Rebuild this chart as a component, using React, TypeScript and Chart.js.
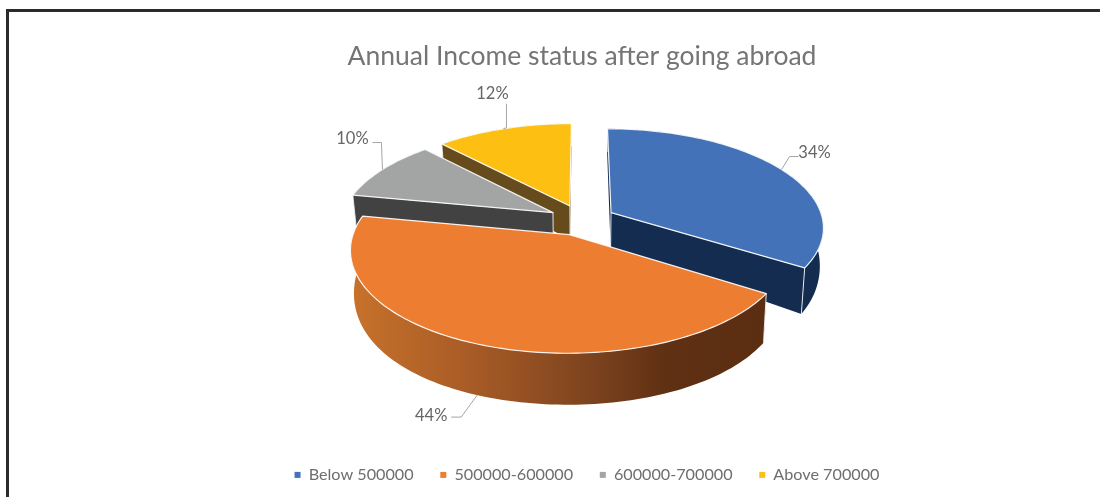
import React, { useEffect, useRef } from "react";
import { Chart, registerables } from "chart.js";

Chart.register(...registerables);

const categories = ["Below 500000", "500000-600000", "600000-700000", "Above 700000"];
const shares = [34, 44, 10, 12];
const topColors = ["#4472B8", "#ED7D31", "#A3A5A4", "#FCBF12"];
const wallColors = ["#142C50", "#8A4A20", "#424242", "#664C1D"];
const chartTitle = "Annual Income status after going abroad";

// Back-to-front paint order of the exploded slices.
const paintOrder = [3, 2, 0, 1];

// Leader geometry per slice, relative to the rim anchor: elbow, tail, text centre.
const leaders = [
  { elbow: [8, -13], tail: [17, -13], text: [33, -17] },
  { elbow: [-16, 22], tail: [-26, 22], text: [-46, 21] },
  { elbow: [-1, -27], tail: [-10, -27], text: [-30, -31] },
  { elbow: [3, -1], tail: [3, -25], text: [-11, -35] },
];

const FONT = "Lato, 'Open Sans', sans-serif";
const PIE_RADIUS = 212;
const PIE_OFFSET = 33.5;
const PIE_CENTER_Y = 220;
const TILT = 0.46;
const PERSPECTIVE = 0.14;
const FLOOR_SCALE = 0.985;

type Pt = [number, number];

// Wall height grows toward the viewer.
const wallDepth = (v: number) => (v < 0 ? 36 + 13 * v : 36 + 29 * v - 12 * v * v);

const projectTop = (cx: number, u: number, v: number): Pt => {
  const w = 1 - PERSPECTIVE * v;
  return [cx + (u * PIE_RADIUS) / w, PIE_CENTER_Y + (v * PIE_RADIUS * TILT) / w];
};

const projectFloor = (cx: number, u: number, v: number): Pt => {
  const [x, y] = projectTop(cx, u, v);
  return [cx + (x - cx) * FLOOR_SCALE, PIE_CENTER_Y + (y - PIE_CENTER_Y) * FLOOR_SCALE + wallDepth(v)];
};

const tracePolygon = (ctx: CanvasRenderingContext2D, pts: Pt[], close = true) => {
  ctx.beginPath();
  pts.forEach(([x, y], i) => (i ? ctx.lineTo(x, y) : ctx.moveTo(x, y)));
  if (close) ctx.closePath();
};

const sliceGeometry = (arc: any) => {
  const radius = arc.outerRadius;
  const mid = (arc.startAngle + arc.endAngle) / 2;
  const shift = arc.options.offset / radius;
  const apex: Pt = [Math.cos(mid) * shift, Math.sin(mid) * shift];
  const rim: Pt[] = [];
  const steps = Math.max(12, Math.ceil((arc.endAngle - arc.startAngle) * 40));
  for (let i = 0; i <= steps; i++) {
    const a = arc.startAngle + ((arc.endAngle - arc.startAngle) * i) / steps;
    rim.push([apex[0] + Math.cos(a), apex[1] + Math.sin(a)]);
  }
  return { apex, rim, mid };
};

// Draws the pie's arc elements as raised, perspective-foreshortened slices.
const extrudedPie = {
  id: "extrudedPie",
  beforeDatasetsDraw(chart: any) {
    const ctx: CanvasRenderingContext2D = chart.ctx;
    const arcs = chart.getDatasetMeta(0).data;
    ctx.save();
    ctx.lineJoin = "round";

    paintOrder.forEach((index) => {
      const arc = arcs[index];
      const cx = arc.x;
      const { apex, rim } = sliceGeometry(arc);
      const top = (p: Pt) => projectTop(cx, p[0], p[1]);
      const floor = (p: Pt) => projectFloor(cx, p[0], p[1]);
      const first = rim[0];
      const last = rim[rim.length - 1];

      let wallFill: string | CanvasGradient = wallColors[index];
      if (index === 1) {
        const gradient = ctx.createLinearGradient(cx - 232, 0, cx + 190, 0);
        gradient.addColorStop(0, "#C8722B");
        gradient.addColorStop(0.3, "#A65A26");
        gradient.addColorStop(0.55, "#80451F");
        gradient.addColorStop(0.75, "#5F3013");
        gradient.addColorStop(1, "#5C2E11");
        wallFill = gradient;
      }
      ctx.fillStyle = wallFill;

      // Radial walls, then the curved outer wall.
      [[apex, first], [apex, last]].forEach(([a, b]) => {
        tracePolygon(ctx, [top(a), top(b), floor(b), floor(a)]);
        ctx.fill();
      });
      tracePolygon(ctx, [...rim.map(top), ...rim.slice().reverse().map(floor)]);
      ctx.fill();

      // Light seams on the vertical corners.
      ctx.strokeStyle = "rgba(255,255,255,0.85)";
      ctx.lineWidth = 1;
      [apex, first, last].forEach((p) => {
        tracePolygon(ctx, [top(p), floor(p)], false);
        ctx.stroke();
      });

      // Top face.
      tracePolygon(ctx, [top(apex), ...rim.map(top)]);
      ctx.fillStyle = arc.options.backgroundColor;
      ctx.fill();
      ctx.strokeStyle = "rgba(255,255,255,0.9)";
      ctx.lineWidth = 1.2;
      ctx.stroke();
    });

    // Percentage labels with leader lines.
    arcs.forEach((arc: any, index: number) => {
      const { apex, mid } = sliceGeometry(arc);
      const u = apex[0] + Math.cos(mid);
      const v = apex[1] + Math.sin(mid);
      const anchor = v > 0.5 ? projectFloor(arc.x, u, v) : projectTop(arc.x, u, v);
      const { elbow, tail, text } = leaders[index];
      tracePolygon(
        ctx,
        [anchor, [anchor[0] + elbow[0], anchor[1] + elbow[1]], [anchor[0] + tail[0], anchor[1] + tail[1]]],
        false
      );
      ctx.strokeStyle = "#A6A6A6";
      ctx.lineWidth = 1;
      ctx.stroke();
      ctx.fillStyle = "#666666";
      ctx.font = `16.5px ${FONT}`;
      ctx.textAlign = "center";
      ctx.textBaseline = "middle";
      ctx.fillText(`${shares[index]}%`, anchor[0] + text[0], anchor[1] + text[1]);
    });

    ctx.restore();
    return false;
  },
};

// Heavy frame along the top and left of the figure.
const frame = {
  id: "frame",
  beforeDraw(chart: any) {
    const { ctx, width, height } = chart;
    ctx.save();
    ctx.fillStyle = "#FFFFFF";
    ctx.fillRect(0, 0, width, height);
    ctx.fillStyle = "#2B2B2B";
    ctx.fillRect(6, 9, width - 6, 3);
    ctx.fillRect(6, 9, 3, height - 9);
    ctx.restore();
  },
};

// The legend sits a little right of the title's centre line.
const legendNudge = {
  id: "legendNudge",
  afterLayout(chart: any) {
    chart.legend.left += 5;
    chart.legend.right += 5;
  },
};

export default function App() {
  const ref = useRef<HTMLCanvasElement>(null);

  useEffect(() => {
    document.body.style.margin = "0";
    const chart = new Chart(ref.current!, {
      type: "pie",
      data: {
        labels: categories,
        datasets: [
          {
            data: shares,
            backgroundColor: topColors,
            borderWidth: 0,
            offset: PIE_OFFSET,
          },
        ],
      },
      options: {
        responsive: false,
        animation: false,
        radius: PIE_RADIUS,
        layout: { padding: { left: 64, top: 41, bottom: 4 } },
        plugins: {
          title: {
            display: true,
            text: chartTitle,
            color: "#757575",
            font: { family: FONT, size: 26.5, weight: "normal" },
            padding: { top: 0, bottom: 4 },
          },
          legend: {
            display: true,
            position: "bottom",
            labels: {
              color: "#6E6E6E",
              font: { family: FONT, size: 16.2 },
              boxWidth: 6,
              boxHeight: 6,
              padding: 26.7,
            },
          },
          tooltip: { enabled: false },
        },
      },
      plugins: [frame, legendNudge, extrudedPie],
    } as any);
    return () => chart.destroy();
  }, []);

  return <canvas ref={ref} width={1100} height={497} style={{ display: "block" }} />;
}
